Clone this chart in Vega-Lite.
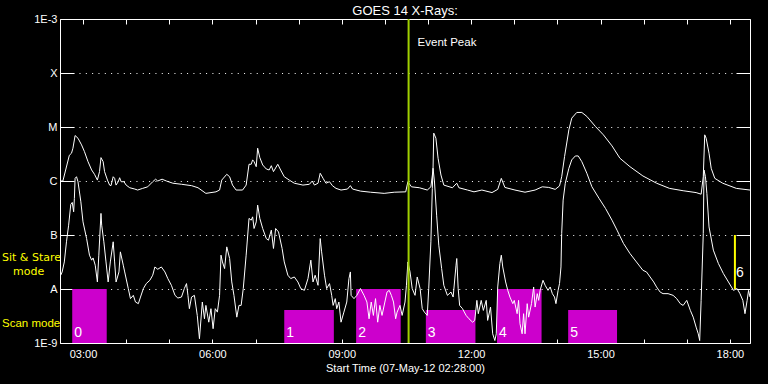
{
  "$schema": "https://vega.github.io/schema/vega-lite/v6.json",
  "width": 690,
  "height": 324,
  "autosize": "none",
  "padding": {"left": 60, "top": 19, "right": 18, "bottom": 41},
  "background": "black",
  "title": {"text": "GOES 14 X-Rays:", "color": "white", "font": "Liberation Sans", "fontSize": 13, "fontWeight": "normal", "offset": 5, "dy": 10},
  "config": {
    "view": {"stroke": "white", "strokeWidth": 1},
    "axis": {"domain": false, "tickColor": "white", "tickWidth": 1, "labelColor": "white", "titleColor": "white", "labelFont": "Liberation Sans", "labelFontSize": 11, "titleFont": "Liberation Sans", "titleFontSize": 11, "titleFontWeight": "normal", "gridColor": "white", "gridOpacity": 1, "gridDash": [1, 5.33], "gridWidth": 1}
  },
  "resolve": {"axis": {"x": "independent", "y": "independent"}},
  "layer": [
    {
      "data": {"values": [
        {"n": "0", "start": "02:45", "end": "03:33", "top": 1e-8},
        {"n": "1", "start": "07:40", "end": "08:49", "top": 4.1e-9},
        {"n": "2", "start": "09:20", "end": "10:22", "top": 1e-8},
        {"n": "3", "start": "10:57", "end": "12:06", "top": 4.1e-9},
        {"n": "4", "start": "12:36", "end": "13:38", "top": 1e-8},
        {"n": "5", "start": "14:15", "end": "15:23", "top": 4.1e-9}
      ], "format": {"parse": {"start": "date:'%H:%M'", "end": "date:'%H:%M'"}}},
      "layer": [
        {
          "mark": {"type": "rect", "color": "#cc00cc"},
          "encoding": {
            "x": {"field": "start", "type": "temporal", "scale": {"domain": [{"year": 1900, "month": 1, "date": 1, "hours": 2, "minutes": 28}, {"year": 1900, "month": 1, "date": 1, "hours": 18, "minutes": 28}]}, "axis": null},
            "x2": {"field": "end"},
            "y": {"field": "top", "type": "quantitative", "scale": {"type": "log", "domain": [1e-9, 1e-3]}, "axis": null},
            "y2": {"datum": 1e-9}
          }
        },
        {
          "mark": {"type": "text", "color": "white", "font": "Liberation Sans", "fontSize": 14, "align": "left", "baseline": "bottom", "dx": 2, "dy": -3},
          "encoding": {
            "x": {"field": "start", "type": "temporal", "axis": null},
            "y": {"datum": 1e-9, "type": "quantitative", "axis": null},
            "text": {"field": "n"}
          }
        }
      ]
    },
    {
      "data": {"values": [{"n": "6", "start": "18:07", "lo": 1e-8, "hi": 1e-7, "mid": 2e-8}], "format": {"parse": {"start": "date:'%H:%M'"}}},
      "layer": [
        {
          "mark": {"type": "rule", "color": "#ffff00", "strokeWidth": 2},
          "encoding": {
            "x": {"field": "start", "type": "temporal", "axis": null},
            "y": {"field": "lo", "type": "quantitative", "axis": null},
            "y2": {"field": "hi"}
          }
        },
        {
          "mark": {"type": "text", "color": "white", "font": "Liberation Sans", "fontSize": 14, "align": "left", "baseline": "middle", "dx": 1},
          "encoding": {
            "x": {"field": "start", "type": "temporal", "axis": null},
            "y": {"field": "mid", "type": "quantitative", "axis": null},
            "text": {"field": "n"}
          }
        }
      ]
    },
    {
      "data": {"values": [
        {"t":"02:28","v":1.0e-6},{"t":"02:32","v":1.0e-6},{"t":"02:41","v":3.0e-6},{"t":"02:44","v":3.27e-6},{"t":"02:46","v":4.05e-6},{"t":"02:49","v":6.95e-6},{"t":"02:53","v":6.2e-6},{"t":"02:58","v":4.66e-6},{"t":"03:02","v":3.5e-6},{"t":"03:07","v":2.28e-6},{"t":"03:12","v":1.6e-6},{"t":"03:16","v":1.33e-6},{"t":"03:20","v":1.04e-6},{"t":"03:23","v":1.49e-6},{"t":"03:25","v":2.71e-6},{"t":"03:28","v":2.28e-6},{"t":"03:30","v":1.49e-6},{"t":"03:34","v":1.04e-6},{"t":"03:37","v":8.4e-7},{"t":"03:39","v":8.2e-7},{"t":"03:42","v":1.2e-6},{"t":"03:44","v":1.12e-6},{"t":"03:46","v":8.4e-7},{"t":"03:49","v":9.7e-7},{"t":"03:51","v":1.15e-6},{"t":"03:53","v":9.7e-7},{"t":"03:57","v":9.7e-7},{"t":"04:00","v":8.4e-7},{"t":"04:05","v":7.5e-7},{"t":"04:12","v":7.1e-7},{"t":"04:16","v":6.8e-7},{"t":"04:23","v":7.3e-7},{"t":"04:30","v":7.8e-7},{"t":"04:37","v":9.7e-7},{"t":"04:41","v":1.08e-6},{"t":"04:44","v":1.0e-6},{"t":"04:50","v":1.08e-6},{"t":"04:56","v":1.0e-6},{"t":"05:05","v":9.1e-7},{"t":"05:17","v":8.7e-7},{"t":"05:31","v":8.2e-7},{"t":"05:40","v":7.5e-7},{"t":"05:51","v":5.9e-7},{"t":"06:05","v":6.3e-7},{"t":"06:10","v":6.8e-7},{"t":"06:13","v":1.04e-6},{"t":"06:20","v":1.33e-6},{"t":"06:24","v":1.2e-6},{"t":"06:28","v":8.4e-7},{"t":"06:33","v":6.8e-7},{"t":"06:42","v":6.8e-7},{"t":"06:47","v":8.4e-7},{"t":"06:51","v":2.04e-6},{"t":"06:54","v":2.04e-6},{"t":"06:56","v":2.46e-6},{"t":"06:58","v":2.28e-6},{"t":"07:01","v":1.84e-6},{"t":"07:03","v":4.05e-6},{"t":"07:06","v":2.71e-6},{"t":"07:10","v":1.98e-6},{"t":"07:15","v":1.67e-6},{"t":"07:19","v":1.6e-6},{"t":"07:22","v":1.92e-6},{"t":"07:25","v":1.49e-6},{"t":"07:31","v":2.04e-6},{"t":"07:35","v":1.6e-6},{"t":"07:40","v":1.2e-6},{"t":"07:47","v":1.04e-6},{"t":"07:54","v":9.1e-7},{"t":"08:06","v":8.4e-7},{"t":"08:15","v":8.7e-7},{"t":"08:19","v":1.0e-6},{"t":"08:22","v":8.4e-7},{"t":"08:27","v":9.1e-7},{"t":"08:30","v":1.39e-6},{"t":"08:34","v":1.12e-6},{"t":"08:38","v":9.1e-7},{"t":"08:43","v":9.7e-7},{"t":"08:47","v":8.2e-7},{"t":"08:52","v":7.3e-7},{"t":"08:59","v":6.8e-7},{"t":"09:08","v":7.1e-7},{"t":"09:12","v":8.2e-7},{"t":"09:15","v":7.1e-7},{"t":"09:26","v":6.5e-7},{"t":"09:40","v":6.2e-7},{"t":"09:59","v":5.9e-7},{"t":"10:13","v":6.2e-7},{"t":"10:29","v":6.3e-7},{"t":"10:32","v":9.7e-7},{"t":"10:37","v":7.8e-7},{"t":"10:48","v":7.5e-7},{"t":"10:59","v":6.8e-7},{"t":"11:04","v":7.8e-7},{"t":"11:07","v":1.6e-6},{"t":"11:08","v":7.7e-6},{"t":"11:11","v":6.2e-6},{"t":"11:14","v":2.64e-6},{"t":"11:18","v":1.29e-6},{"t":"11:22","v":8.4e-7},{"t":"11:34","v":7.5e-7},{"t":"11:40","v":9.1e-7},{"t":"11:43","v":7.5e-7},{"t":"11:55","v":6.8e-7},{"t":"12:04","v":6.3e-7},{"t":"12:15","v":6.8e-7},{"t":"12:29","v":6.1e-7},{"t":"12:37","v":7.0e-7},{"t":"12:42","v":1.12e-6},{"t":"12:47","v":7.6e-7},{"t":"13:01","v":6.8e-7},{"t":"13:15","v":6.2e-7},{"t":"13:29","v":6.8e-7},{"t":"13:39","v":7.8e-7},{"t":"13:48","v":7.6e-7},{"t":"13:57","v":7.0e-7},{"t":"14:03","v":8.1e-7},{"t":"14:06","v":1.2e-6},{"t":"14:10","v":2.83e-6},{"t":"14:16","v":8.87e-6},{"t":"14:20","v":1.46e-5},{"t":"14:27","v":1.86e-5},{"t":"14:34","v":1.86e-5},{"t":"14:41","v":1.57e-5},{"t":"14:53","v":1.02e-5},{"t":"15:04","v":7.16e-6},{"t":"15:16","v":4.47e-6},{"t":"15:27","v":2.64e-6},{"t":"15:41","v":1.84e-6},{"t":"15:59","v":1.24e-6},{"t":"16:18","v":9.1e-7},{"t":"16:36","v":7.3e-7},{"t":"16:55","v":6.6e-7},{"t":"17:13","v":6.1e-7},{"t":"17:20","v":5.7e-7},{"t":"17:23","v":1.2e-6},{"t":"17:25","v":7.16e-6},{"t":"17:27","v":6.2e-6},{"t":"17:31","v":3.27e-6},{"t":"17:34","v":1.72e-6},{"t":"17:39","v":1.12e-6},{"t":"17:50","v":9.1e-7},{"t":"18:09","v":7.3e-7},{"t":"18:28","v":6.8e-7}
      ], "format": {"parse": {"t": "date:'%H:%M'"}}},
      "mark": {"type": "line", "color": "white", "strokeWidth": 1},
      "encoding": {
        "x": {"field": "t", "type": "temporal", "axis": {"orient": "bottom", "values": [
          {"year": 1900, "month": 1, "date": 1, "hours": 3}, {"year": 1900, "month": 1, "date": 1, "hours": 4}, {"year": 1900, "month": 1, "date": 1, "hours": 5}, {"year": 1900, "month": 1, "date": 1, "hours": 6},
          {"year": 1900, "month": 1, "date": 1, "hours": 7}, {"year": 1900, "month": 1, "date": 1, "hours": 8}, {"year": 1900, "month": 1, "date": 1, "hours": 9}, {"year": 1900, "month": 1, "date": 1, "hours": 10},
          {"year": 1900, "month": 1, "date": 1, "hours": 11}, {"year": 1900, "month": 1, "date": 1, "hours": 12}, {"year": 1900, "month": 1, "date": 1, "hours": 13}, {"year": 1900, "month": 1, "date": 1, "hours": 14},
          {"year": 1900, "month": 1, "date": 1, "hours": 15}, {"year": 1900, "month": 1, "date": 1, "hours": 16}, {"year": 1900, "month": 1, "date": 1, "hours": 17}, {"year": 1900, "month": 1, "date": 1, "hours": 18}],
          "format": "%H:%M", "labelExpr": "hours(datum.value) % 3 == 0 ? datum.label : ''", "tickSize": -4, "labelPadding": 9, "grid": false, "title": "Start Time (07-May-12 02:28:00)", "titlePadding": 3}},
        "y": {"field": "v", "type": "quantitative", "axis": {"orient": "left", "values": [1e-9, 1e-8, 1e-7, 1e-6, 1e-5, 1e-4, 1e-3], "labelExpr": "datum.value < 3e-9 ? '1E-9' : datum.value < 3e-8 ? 'A' : datum.value < 3e-7 ? 'B' : datum.value < 3e-6 ? 'C' : datum.value < 3e-5 ? 'M' : datum.value < 3e-4 ? 'X' : '1E-3'", "tickSize": -14, "labelPadding": 17, "grid": true, "title": null}}
      }
    },
    {
      "data": {"values": [
        {"t":"02:29","v":1.8e-8},{"t":"02:31","v":2.07e-8},{"t":"02:34","v":3.17e-8},{"t":"02:37","v":7.48e-8},{"t":"02:40","v":1.52e-7},{"t":"02:43","v":3.68e-7},{"t":"02:45","v":4.01e-7},{"t":"02:47","v":2.69e-7},{"t":"02:48","v":4.76e-7},{"t":"02:49","v":1.12e-6},{"t":"02:51","v":1.2e-6},{"t":"02:53","v":9.7e-7},{"t":"02:57","v":4.12e-7},{"t":"03:00","v":1.75e-7},{"t":"03:05","v":8.6e-8},{"t":"03:09","v":4.23e-8},{"t":"03:12","v":3.42e-8},{"t":"03:14","v":3.76e-8},{"t":"03:17","v":2.76e-8},{"t":"03:20","v":1.35e-8},{"t":"03:22","v":4.23e-8},{"t":"03:25","v":2.51e-7},{"t":"03:26","v":1.52e-7},{"t":"03:29","v":7.48e-8},{"t":"03:32","v":3.17e-8},{"t":"03:35","v":1.35e-8},{"t":"03:38","v":3.17e-8},{"t":"03:42","v":7.48e-8},{"t":"03:44","v":3.17e-8},{"t":"03:46","v":1.35e-8},{"t":"03:50","v":2.07e-8},{"t":"03:52","v":4.87e-8},{"t":"03:56","v":2.76e-8},{"t":"03:58","v":2.07e-8},{"t":"04:03","v":1.02e-8},{"t":"04:06","v":6.63e-9},{"t":"04:10","v":7.63e-9},{"t":"04:13","v":5.74e-9},{"t":"04:17","v":5.35e-9},{"t":"04:20","v":7.1e-9},{"t":"04:24","v":1.02e-8},{"t":"04:28","v":1.26e-8},{"t":"04:33","v":1.45e-8},{"t":"04:37","v":1.8e-8},{"t":"04:40","v":2.56e-8},{"t":"04:44","v":2.32e-8},{"t":"04:49","v":2.56e-8},{"t":"04:54","v":2.07e-8},{"t":"04:58","v":1.56e-8},{"t":"05:03","v":1.17e-8},{"t":"05:08","v":7.63e-9},{"t":"05:12","v":6.8e-9},{"t":"05:17","v":7.1e-9},{"t":"05:21","v":1.02e-8},{"t":"05:24","v":1.26e-8},{"t":"05:26","v":7.63e-9},{"t":"05:28","v":4.32e-9},{"t":"05:31","v":7.1e-9},{"t":"05:35","v":7.63e-9},{"t":"05:39","v":3.24e-9},{"t":"05:42","v":1.2e-9},{"t":"05:46","v":5.74e-9},{"t":"05:49","v":2.81e-9},{"t":"05:51","v":4.97e-9},{"t":"05:55","v":2.43e-9},{"t":"05:58","v":4.32e-9},{"t":"06:01","v":1.84e-9},{"t":"06:04","v":4.32e-9},{"t":"06:07","v":3.73e-9},{"t":"06:10","v":7.63e-9},{"t":"06:12","v":4.23e-8},{"t":"06:14","v":3.17e-8},{"t":"06:17","v":2.39e-8},{"t":"06:20","v":6.03e-8},{"t":"06:24","v":3.67e-8},{"t":"06:27","v":1.35e-8},{"t":"06:30","v":7.63e-9},{"t":"06:34","v":3.01e-9},{"t":"06:37","v":4.97e-9},{"t":"06:40","v":4.97e-9},{"t":"06:43","v":1.02e-8},{"t":"06:47","v":4.23e-8},{"t":"06:51","v":2.03e-7},{"t":"06:54","v":1.88e-7},{"t":"06:56","v":2.17e-7},{"t":"06:58","v":1.32e-7},{"t":"07:01","v":1.75e-7},{"t":"07:03","v":3.58e-7},{"t":"07:06","v":2.03e-7},{"t":"07:10","v":1.32e-7},{"t":"07:15","v":8.6e-8},{"t":"07:18","v":8.0e-8},{"t":"07:22","v":1.23e-7},{"t":"07:25","v":5.63e-8},{"t":"07:28","v":1.32e-7},{"t":"07:32","v":1.14e-7},{"t":"07:37","v":5.63e-8},{"t":"07:40","v":3.17e-8},{"t":"07:45","v":1.8e-8},{"t":"07:49","v":1.56e-8},{"t":"07:54","v":1.67e-8},{"t":"07:59","v":1.35e-8},{"t":"08:03","v":1.02e-8},{"t":"08:08","v":9.44e-9},{"t":"08:13","v":1.56e-8},{"t":"08:17","v":3.42e-8},{"t":"08:20","v":1.35e-8},{"t":"08:23","v":1.8e-8},{"t":"08:27","v":1.17e-8},{"t":"08:30","v":8.6e-8},{"t":"08:32","v":4.87e-8},{"t":"08:36","v":1.8e-8},{"t":"08:39","v":1.02e-8},{"t":"08:43","v":1.26e-8},{"t":"08:46","v":7.63e-9},{"t":"08:48","v":4.97e-9},{"t":"08:51","v":6.63e-9},{"t":"08:53","v":4.32e-9},{"t":"08:56","v":5.74e-9},{"t":"08:59","v":2.43e-9},{"t":"09:03","v":3.73e-9},{"t":"09:07","v":5.74e-9},{"t":"09:10","v":1.56e-8},{"t":"09:12","v":2.07e-8},{"t":"09:13","v":7.63e-9},{"t":"09:17","v":6.63e-9},{"t":"09:21","v":7.63e-9},{"t":"09:26","v":1.02e-8},{"t":"09:31","v":7.63e-9},{"t":"09:35","v":5.74e-9},{"t":"09:38","v":2.81e-9},{"t":"09:41","v":5.74e-9},{"t":"09:44","v":3.24e-9},{"t":"09:47","v":6.63e-9},{"t":"09:50","v":2.43e-9},{"t":"09:53","v":4.97e-9},{"t":"09:56","v":3.24e-9},{"t":"10:00","v":5.74e-9},{"t":"10:03","v":8.77e-9},{"t":"10:06","v":9.44e-9},{"t":"10:09","v":7.63e-9},{"t":"10:12","v":5.74e-9},{"t":"10:15","v":2.81e-9},{"t":"10:17","v":3.73e-9},{"t":"10:21","v":4.97e-9},{"t":"10:24","v":3.24e-9},{"t":"10:28","v":5.74e-9},{"t":"10:30","v":1.17e-8},{"t":"10:32","v":3.17e-8},{"t":"10:35","v":2.07e-8},{"t":"10:38","v":1.02e-8},{"t":"10:42","v":7.63e-9},{"t":"10:45","v":1.67e-8},{"t":"10:49","v":1.02e-8},{"t":"10:52","v":4.32e-9},{"t":"10:55","v":3.73e-9},{"t":"10:59","v":3.24e-9},{"t":"11:01","v":1.02e-8},{"t":"11:04","v":7.48e-8},{"t":"11:06","v":7.3e-7},{"t":"11:07","v":1.72e-6},{"t":"11:09","v":9.7e-7},{"t":"11:12","v":2.33e-7},{"t":"11:15","v":6.48e-8},{"t":"11:19","v":2.39e-8},{"t":"11:22","v":1.17e-8},{"t":"11:27","v":7.63e-9},{"t":"11:32","v":8.77e-9},{"t":"11:35","v":7.1e-9},{"t":"11:39","v":2.76e-8},{"t":"11:40","v":3.67e-8},{"t":"11:42","v":1.02e-8},{"t":"11:44","v":4.97e-9},{"t":"11:48","v":4.32e-9},{"t":"11:53","v":3.24e-9},{"t":"11:57","v":2.81e-9},{"t":"12:02","v":2.43e-9},{"t":"12:05","v":2.62e-9},{"t":"12:08","v":6.16e-9},{"t":"12:10","v":3.49e-9},{"t":"12:14","v":6.16e-9},{"t":"12:17","v":4.01e-9},{"t":"12:21","v":6.16e-9},{"t":"12:23","v":2.62e-9},{"t":"12:27","v":4.63e-9},{"t":"12:30","v":1.48e-9},{"t":"12:33","v":1.11e-9},{"t":"12:35","v":1.48e-9},{"t":"12:37","v":1.09e-8},{"t":"12:40","v":2.97e-8},{"t":"12:42","v":4.23e-8},{"t":"12:44","v":2.56e-8},{"t":"12:48","v":1.35e-8},{"t":"12:51","v":9.44e-9},{"t":"12:54","v":7.1e-9},{"t":"12:58","v":5.35e-9},{"t":"13:00","v":6.16e-9},{"t":"13:04","v":3.49e-9},{"t":"13:06","v":6.16e-9},{"t":"13:08","v":2.27e-9},{"t":"13:11","v":1.48e-9},{"t":"13:13","v":3.49e-9},{"t":"13:15","v":1.48e-9},{"t":"13:18","v":5.35e-9},{"t":"13:20","v":3.01e-9},{"t":"13:24","v":5.35e-9},{"t":"13:27","v":1.09e-8},{"t":"13:29","v":4.63e-9},{"t":"13:32","v":8.2e-9},{"t":"13:34","v":6.16e-9},{"t":"13:36","v":9.44e-9},{"t":"13:40","v":1.45e-8},{"t":"13:43","v":1.17e-8},{"t":"13:47","v":9.44e-9},{"t":"13:50","v":1.09e-8},{"t":"13:53","v":8.2e-9},{"t":"13:56","v":7.1e-9},{"t":"13:58","v":5.35e-9},{"t":"14:01","v":9.44e-9},{"t":"14:03","v":1.26e-8},{"t":"14:05","v":2.56e-8},{"t":"14:06","v":1.07e-7},{"t":"14:08","v":4.43e-7},{"t":"14:11","v":9.06e-7},{"t":"14:16","v":1.72e-6},{"t":"14:20","v":2.46e-6},{"t":"14:25","v":2.91e-6},{"t":"14:29","v":2.91e-6},{"t":"14:34","v":2.28e-6},{"t":"14:41","v":1.39e-6},{"t":"14:48","v":7.83e-7},{"t":"14:58","v":4.76e-7},{"t":"15:07","v":3.1e-7},{"t":"15:16","v":1.88e-7},{"t":"15:23","v":1.23e-7},{"t":"15:32","v":6.97e-8},{"t":"15:41","v":4.54e-8},{"t":"15:50","v":3.17e-8},{"t":"15:59","v":2.22e-8},{"t":"16:04","v":2.07e-8},{"t":"16:09","v":1.67e-8},{"t":"16:14","v":1.35e-8},{"t":"16:18","v":1.09e-8},{"t":"16:23","v":8.77e-9},{"t":"16:27","v":8.2e-9},{"t":"16:34","v":8.2e-9},{"t":"16:41","v":7.63e-9},{"t":"16:46","v":6.63e-9},{"t":"16:51","v":5.35e-9},{"t":"16:55","v":4.97e-9},{"t":"17:00","v":6.16e-9},{"t":"17:05","v":4.01e-9},{"t":"17:09","v":3.01e-9},{"t":"17:13","v":1.97e-9},{"t":"17:16","v":1.48e-9},{"t":"17:18","v":1.11e-9},{"t":"17:20","v":6.16e-9},{"t":"17:23","v":1.07e-7},{"t":"17:24","v":1.6e-6},{"t":"17:26","v":1.2e-6},{"t":"17:28","v":5.9e-7},{"t":"17:31","v":1.41e-7},{"t":"17:37","v":5.24e-8},{"t":"17:44","v":2.97e-8},{"t":"17:51","v":1.93e-8},{"t":"17:58","v":1.35e-8},{"t":"18:05","v":9.44e-9},{"t":"18:10","v":1.02e-8},{"t":"18:14","v":8.2e-9},{"t":"18:18","v":6.16e-9},{"t":"18:21","v":3.49e-9},{"t":"18:24","v":6.16e-9},{"t":"18:26","v":9.44e-9},{"t":"18:28","v":7.1e-9}
      ], "format": {"parse": {"t": "date:'%H:%M'"}}},
      "mark": {"type": "line", "color": "white", "strokeWidth": 1},
      "encoding": {
        "x": {"field": "t", "type": "temporal", "axis": {"orient": "top", "values": [
          {"year": 1900, "month": 1, "date": 1, "hours": 3}, {"year": 1900, "month": 1, "date": 1, "hours": 4}, {"year": 1900, "month": 1, "date": 1, "hours": 5}, {"year": 1900, "month": 1, "date": 1, "hours": 6},
          {"year": 1900, "month": 1, "date": 1, "hours": 7}, {"year": 1900, "month": 1, "date": 1, "hours": 8}, {"year": 1900, "month": 1, "date": 1, "hours": 9}, {"year": 1900, "month": 1, "date": 1, "hours": 10},
          {"year": 1900, "month": 1, "date": 1, "hours": 11}, {"year": 1900, "month": 1, "date": 1, "hours": 12}, {"year": 1900, "month": 1, "date": 1, "hours": 13}, {"year": 1900, "month": 1, "date": 1, "hours": 14},
          {"year": 1900, "month": 1, "date": 1, "hours": 15}, {"year": 1900, "month": 1, "date": 1, "hours": 16}, {"year": 1900, "month": 1, "date": 1, "hours": 17}, {"year": 1900, "month": 1, "date": 1, "hours": 18}],
          "labels": false, "tickSize": -5, "grid": false, "title": null}},
        "y": {"field": "v", "type": "quantitative", "axis": {"orient": "right", "values": [1e-9, 1e-8, 1e-7, 1e-6, 1e-5, 1e-4, 1e-3], "labels": false, "tickSize": -14, "grid": false, "title": null}}
      }
    },
    {
      "data": {"values": [{"t": "10:33", "label": "Event Peak", "ypos": 3.6e-4}], "format": {"parse": {"t": "date:'%H:%M'"}}},
      "layer": [
        {
          "mark": {"type": "rule", "color": "#a0d000", "strokeWidth": 2},
          "encoding": {"x": {"field": "t", "type": "temporal", "axis": null}}
        },
        {
          "mark": {"type": "text", "color": "white", "font": "Liberation Sans", "fontSize": 11.5, "align": "left", "baseline": "middle", "dx": 9},
          "encoding": {
            "x": {"field": "t", "type": "temporal", "axis": null},
            "y": {"field": "ypos", "type": "quantitative", "axis": null},
            "text": {"field": "label"}
          }
        }
      ]
    },
    {
      "data": {"values": [{"label": "Sit & Stare", "t": "02:28", "ypos": 3.7e-8}], "format": {"parse": {"t": "date:'%H:%M'"}}},
      "mark": {"type": "text", "color": "#ffff00", "font": "DejaVu Sans", "fontSize": 11, "align": "left", "baseline": "middle", "dx": -58},
      "encoding": {
        "x": {"field": "t", "type": "temporal", "axis": null},
        "y": {"field": "ypos", "type": "quantitative", "axis": null},
        "text": {"field": "label"}
      }
    },
    {
      "data": {"values": [{"label": "mode", "t": "02:28", "ypos": 2.1e-8}], "format": {"parse": {"t": "date:'%H:%M'"}}},
      "mark": {"type": "text", "color": "#ffff00", "font": "DejaVu Sans", "fontSize": 11, "align": "left", "baseline": "middle", "dx": -47},
      "encoding": {
        "x": {"field": "t", "type": "temporal", "axis": null},
        "y": {"field": "ypos", "type": "quantitative", "axis": null},
        "text": {"field": "label"}
      }
    },
    {
      "data": {"values": [{"label": "Scan mode", "t": "02:28", "ypos": 2.25e-9}], "format": {"parse": {"t": "date:'%H:%M'"}}},
      "mark": {"type": "text", "color": "#ffff00", "font": "Liberation Sans", "fontSize": 11.5, "align": "left", "baseline": "middle", "dx": -58},
      "encoding": {
        "x": {"field": "t", "type": "temporal", "axis": null},
        "y": {"field": "ypos", "type": "quantitative", "axis": null},
        "text": {"field": "label"}
      }
    }
  ]
}
